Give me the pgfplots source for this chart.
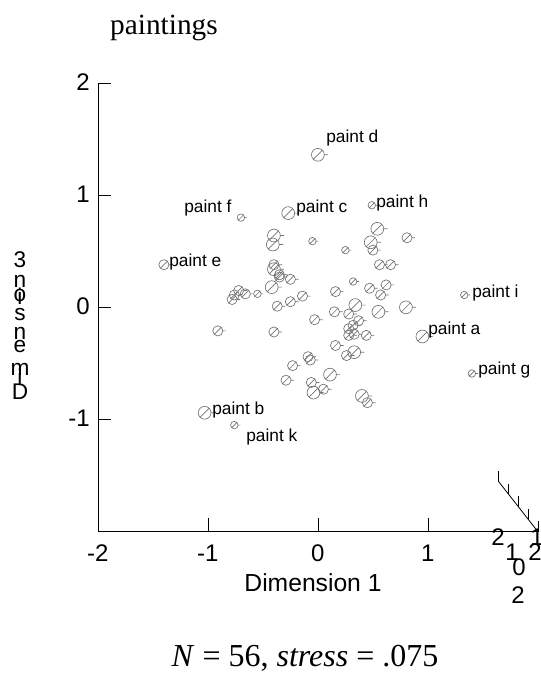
\documentclass[border=0pt]{standalone}
\usepackage{fontspec}
\setmainfont{Liberation Sans}
\newfontfamily\timesfont{Liberation Serif}
\usepackage{pgfplots}
\pgfplotsset{compat=1.18}

% circle with a slash and a short depth tick, as in the SPSS 3-D scatter
\pgfdeclareplotmark{mds}{%
  \pgfpathcircle{\pgfpointorigin}{\pgfplotmarksize}%
  \pgfpathmoveto{\pgfpoint{-0.65\pgfplotmarksize}{-0.65\pgfplotmarksize}}%
  \pgfpathlineto{\pgfpoint{0.65\pgfplotmarksize}{0.65\pgfplotmarksize}}%
  \pgfpathmoveto{\pgfpoint{\pgfplotmarksize}{0pt}}%
  \pgfpathlineto{\pgfpoint{1.6\pgfplotmarksize}{0pt}}%
  \pgfusepathqstroke
}

\begin{document}
\begin{tikzpicture}[x=0.75pt,y=0.75pt]
\useasboundingbox (0,0) rectangle (541,673);
\begin{axis}[
  scale only axis, width=330pt, height=336.5pt,
  at={(89,673-547)}, anchor=south west,
  xmin=-2, xmax=2, ymin=-2, ymax=2,
  axis x line*=bottom, axis y line*=left,
  axis line style={-, line width=0.6pt},
  xtick={-2,-1,0,1}, xticklabels={-2,-1,0,1},
  ytick={-1,0,1,2}, yticklabels={-1,0,1,2},
  tick align=inside, major tick length=10pt,
  tick style={black, line width=0.6pt},
  xticklabel style={font=\fontsize{18}{18}\selectfont, anchor=base, inner sep=0pt, yshift=-22pt},
  yticklabel style={font=\fontsize{18}{18}\selectfont, anchor=east, inner sep=0pt, xshift=-6pt, yshift=1pt},
  clip=false,
]
% small points
\addplot[only marks, mark=mds, mark size=2.8pt, draw=black!55, line width=0.5pt]
  coordinates {(-0.70,0.80)(0.49,0.91)(1.33,0.11)(-0.76,-1.05)(-0.05,0.59)
  (0.25,0.51)(0.32,0.23)(-0.55,0.12)(1.40,-0.59)};
% medium points
\addplot[only marks, mark=mds, mark size=3.8pt, draw=black!55, line width=0.5pt]
  coordinates {(-1.40,0.38)(-0.40,0.38)(-0.35,0.29)(-0.35,0.27)(-0.25,0.25)
  (-0.72,0.15)(-0.76,0.11)(-0.78,0.07)(-0.66,0.12)(-0.37,0.01)(-0.25,0.05)
  (-0.14,0.10)(-0.03,-0.11)(-0.91,-0.21)(-0.40,-0.22)
  (0.81,0.62)(0.50,0.51)(0.56,0.38)(0.66,0.38)(0.16,0.14)(0.47,0.17)
  (0.62,0.20)(0.57,0.11)(0.15,-0.04)(0.28,-0.06)(0.37,-0.12)(0.32,-0.16)
  (0.28,-0.19)(-0.09,-0.44)(-0.07,-0.47)(-0.23,-0.52)(-0.29,-0.65)
  (-0.06,-0.67)(0.05,-0.73)(0.28,-0.25)(0.33,-0.24)(0.44,-0.25)
  (0.16,-0.34)(0.26,-0.43)(0.45,-0.85)};
% large points
\addplot[only marks, mark=mds, mark size=4.8pt, draw=black!55, line width=0.5pt]
  coordinates {(0.00,1.36)(-0.27,0.84)(0.95,-0.26)(-1.03,-0.94)
  (-0.40,0.64)(-0.41,0.56)(-0.40,0.34)(-0.42,0.18)(0.54,0.70)(0.48,0.58)
  (0.34,0.02)(0.80,0.00)(0.55,-0.04)(0.33,-0.40)(0.11,-0.60)(-0.04,-0.76)
  (0.40,-0.79)};
% depth axis
\draw[line width=0.6pt] (axis cs:1.645,-1.556) -- (axis cs:2,-2);
\draw[line width=0.6pt] (axis cs:1.645,-1.556) -- ++(0pt,8pt);
\draw[line width=0.6pt] (axis cs:1.734,-1.667) -- ++(0pt,8pt);
\draw[line width=0.6pt] (axis cs:1.8225,-1.778) -- ++(0pt,8pt);
\draw[line width=0.6pt] (axis cs:1.911,-1.889) -- ++(0pt,8pt);
\draw[line width=0.6pt] (axis cs:2,-2) -- ++(0pt,8pt);
\end{axis}

% point labels
\begin{scope}[every node/.style={font=\fontsize{13}{13}\selectfont, inner sep=0pt, anchor=west}]
\node at (326,673-138) {paint d};
\node at (184,673-208) {paint f};
\node at (296,673-208) {paint c};
\node at (376,673-203) {paint h};
\node at (169,673-262) {paint e};
\node at (472,673-293) {paint i};
\node at (428,673-330) {paint a};
\node at (478,673-370) {paint g};
\node at (212,673-410) {paint b};
\node at (246,673-437) {paint k};
\end{scope}

% titles
\node[font=\timesfont\fontsize{22}{22}\selectfont, anchor=base, inner sep=0pt] at (164,673-35) {paintings};
\node[font=\fontsize{18.5}{18.5}\selectfont, anchor=base, inner sep=0pt] at (313,673-592) {Dimension 1};
\node[font=\timesfont\fontsize{24}{24}\selectfont, anchor=base, inner sep=0pt] at (305,673-666)
  {\textit{N} = 56, \textit{stress} = .075};

% stacked axis title for dimension 3
\begin{scope}[every node/.style={font=\fontsize{17}{17}\selectfont, inner sep=0pt}]
\node at (20,673-260) {3};
\node at (20,673-281) {n};
\node at (20,673-296) {o};
\node at (20,673-296) {i};
\node at (20,673-315) {s};
\node at (20,673-333) {n};
\node at (20,673-347) {e};
\node at (20,673-369) {m};
\node at (20,673-377) {i};
\node at (20,673-392) {D};
\end{scope}

% depth axis tick labels
\begin{scope}[every node/.style={font=\fontsize{18}{18}\selectfont, inner sep=0pt}]
\node at (498,673-537) {2};
\node at (512,673-552) {1};
\node at (519,673-567) {0};
\node at (518,673-595) {2};
\node at (537,673-537) {1};
\node at (535,673-552) {2};
\end{scope}
\end{tikzpicture}
\end{document}
